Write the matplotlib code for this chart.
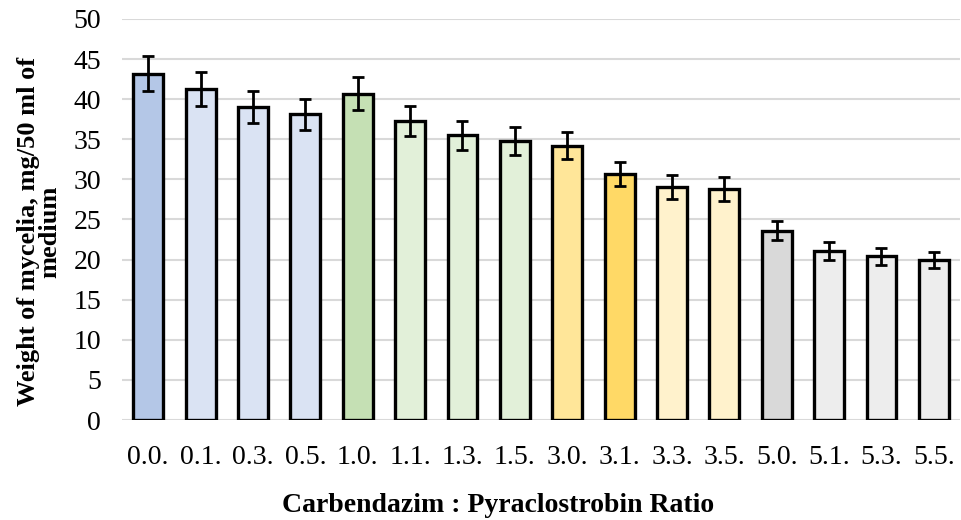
import numpy as np
import matplotlib.pyplot as plt

# ratios and measured weights
ratios = ["0.0.", "0.1.", "0.3.", "0.5.", "1.0.", "1.1.", "1.3.", "1.5.",
          "3.0.", "3.1.", "3.3.", "3.5.", "5.0.", "5.1.", "5.3.", "5.5."]
weight = [43.2, 41.3, 39.0, 38.1, 40.7, 37.3, 35.5, 34.8,
          34.2, 30.7, 29.0, 28.8, 23.6, 21.1, 20.4, 19.9]
err = [2.2, 2.1, 2.0, 1.9, 2.1, 1.9, 1.8, 1.7,
       1.7, 1.5, 1.5, 1.5, 1.2, 1.1, 1.1, 1.0]
colors = ["#B4C7E7", "#DAE3F3", "#DAE3F3", "#DAE3F3",
          "#C5E0B4", "#E2F0D9", "#E2F0D9", "#E2F0D9",
          "#FFE699", "#FFD966", "#FFF2CC", "#FFF2CC",
          "#D9D9D9", "#EDEDED", "#EDEDED", "#EDEDED"]

plt.rcParams["font.family"] = ["Liberation Serif", "DejaVu Serif"]

fig = plt.figure(figsize=(9.61, 5.2), dpi=100)
ax = fig.add_axes([0.127, 0.1923, 0.872, 0.7712])

x = np.arange(len(ratios))
ax.bar(x, weight, width=0.57, color=colors, edgecolor="black", linewidth=2.4, zorder=3)
ax.errorbar(x, weight, yerr=err, fmt="none", ecolor="black", elinewidth=2,
            capsize=4, capthick=2, zorder=4)

ax.set_ylim(0, 50)
ax.set_xlim(-0.5, len(ratios) - 0.5)
ax.set_yticks(range(0, 51, 5))
ax.set_xticks(x)
ax.set_xticklabels(ratios)
ax.tick_params(axis="both", length=0, labelsize=20)
ax.tick_params(axis="x", pad=18)
ax.tick_params(axis="y", pad=15)
ax.yaxis.grid(True, color="#D9D9D9", linewidth=1.5, zorder=0)
for s in ax.spines.values():
    s.set_visible(False)

ax.set_ylabel("Weight of mycelia, mg/50 ml of\nmedium", fontsize=19,
              fontweight="bold", linespacing=0.9)
ax.yaxis.set_label_coords(-0.073, 0.47)
ax.set_xlabel("Carbendazim : Pyraclostrobin Ratio", fontsize=20,
              fontweight="bold")
ax.xaxis.set_label_coords(0.449, -0.182)

fig.savefig("out.png", dpi=100)
